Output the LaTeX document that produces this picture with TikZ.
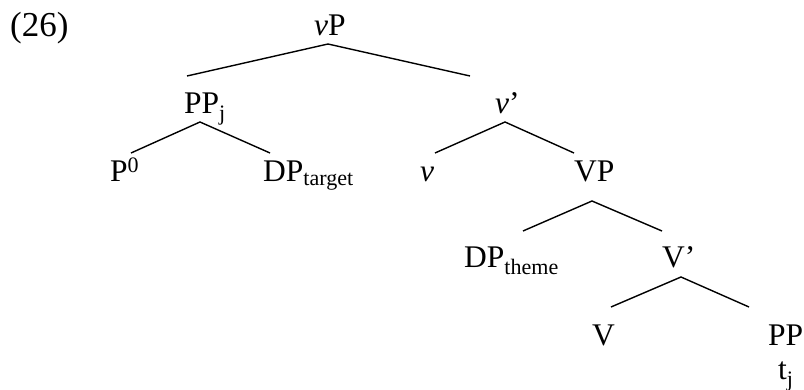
\documentclass[tikz,border=0pt]{standalone}
\usepackage{fontspec}
\setmainfont{Liberation Serif}
\begin{document}
\begin{tikzpicture}[x=1pt,y=-1pt,
  lab/.style={anchor=base west,inner sep=0pt,font=\fontsize{31.5}{38}\selectfont},
  branch/.style={line width=1.4pt}]
\useasboundingbox (0,0) rectangle (804,390);
\node[anchor=base west,inner sep=0pt,font=\fontsize{35}{42}\selectfont] (num) at (10,37) {(26)};
\node[lab] (vP) at (314,36) {\textit{v}P};
\node[lab] (PPj) at (184,114) {PP\textsubscript{j}};
\node[lab] (vbar) at (495,114) {\textit{v}’};
\node[lab] (P0) at (110,182) {P\textsuperscript{0}};
\node[lab] (DPt) at (263,182) {DP\textsubscript{target}};
\node[lab] (v) at (420,182) {\textit{v}};
\node[lab] (VP) at (574,182) {VP};
\node[lab] (DPth) at (464,268) {DP\textsubscript{theme}};
\node[lab] (Vbar) at (662,268) {V’};
\node[lab] (V) at (592,345) {V};
\node[lab] (PP) at (768,345) {PP};
\node[lab] (tj) at (778,380) {t\textsubscript{j}};
\coordinate (a1) at (328,44); \coordinate (l1) at (187,76); \coordinate (r1) at (470,76);
\coordinate (a2) at (200,122); \coordinate (l2) at (131,153); \coordinate (r2) at (270,153);
\coordinate (a3) at (505,122); \coordinate (l3) at (435,153); \coordinate (r3) at (574,153);
\coordinate (a4) at (592,201); \coordinate (l4) at (523,231); \coordinate (r4) at (662,231);
\coordinate (a5) at (681,277); \coordinate (l5) at (611,307); \coordinate (r5) at (749,307);
\draw[branch] (l1) -- (a1) -- (r1);
\draw[branch] (l2) -- (a2) -- (r2);
\draw[branch] (l3) -- (a3) -- (r3);
\draw[branch] (l4) -- (a4) -- (r4);
\draw[branch] (l5) -- (a5) -- (r5);
\end{tikzpicture}
\end{document}
